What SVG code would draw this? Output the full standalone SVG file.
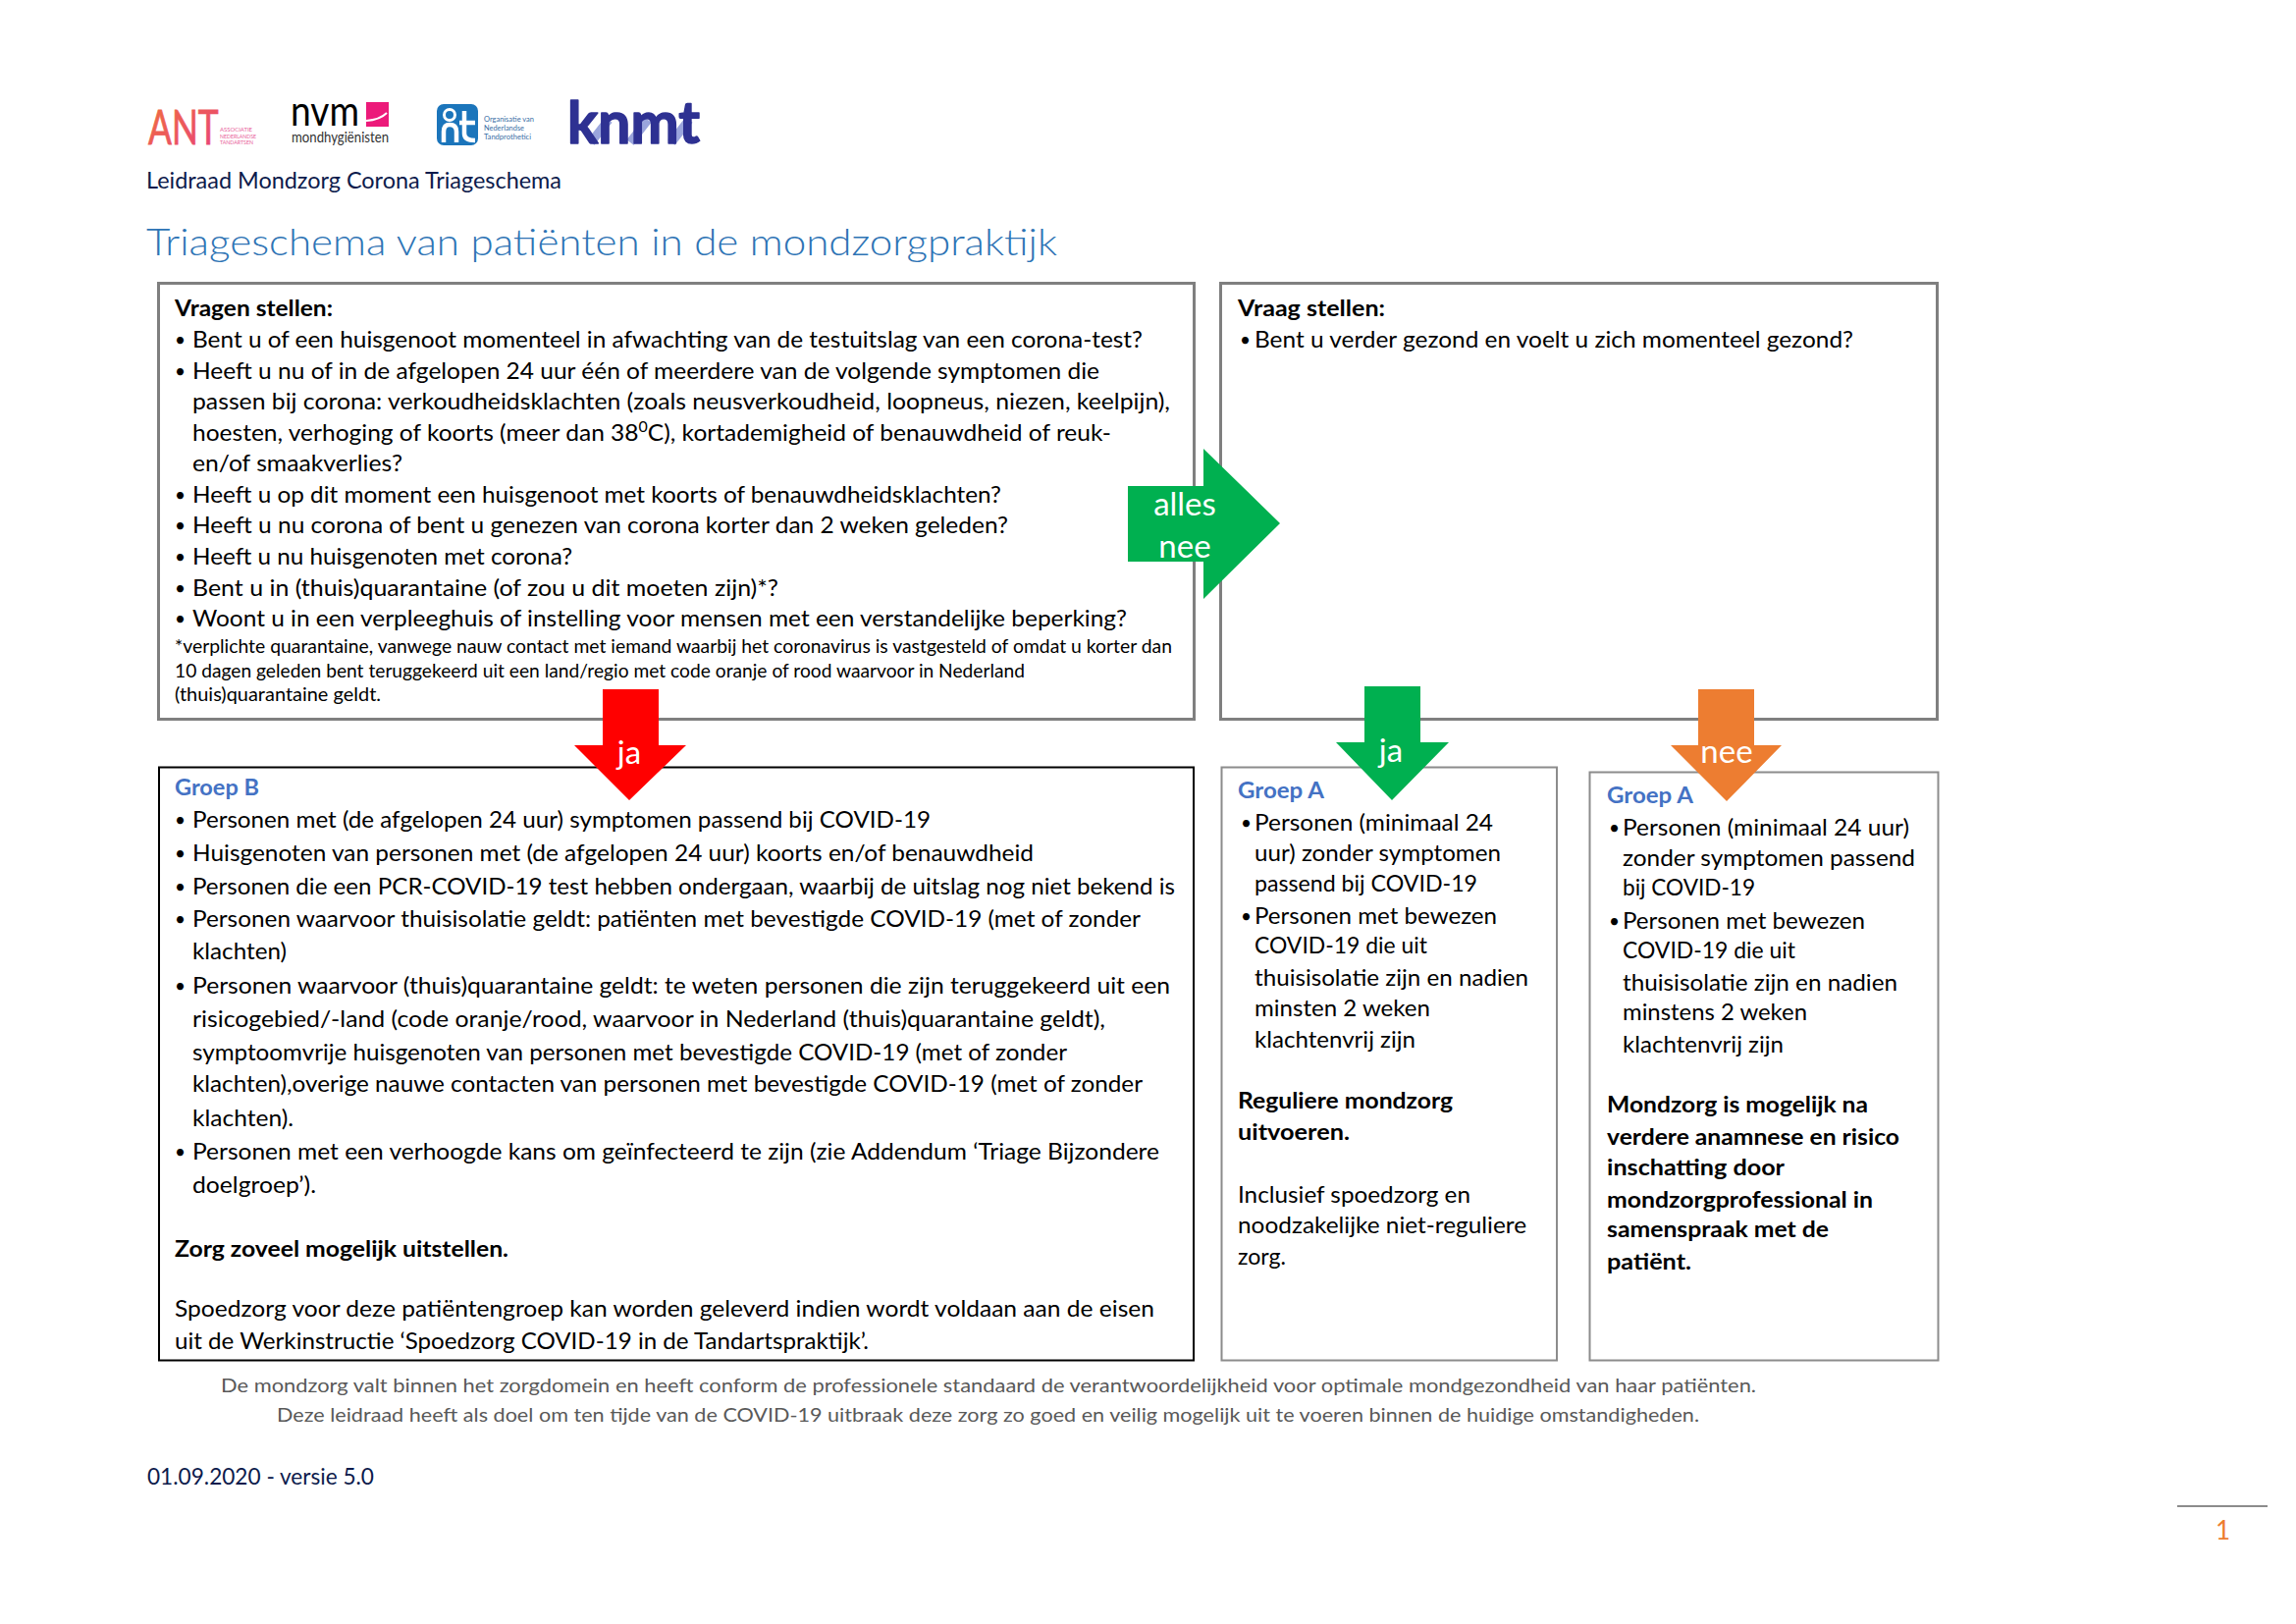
<svg xmlns="http://www.w3.org/2000/svg" width="2339" height="1654" viewBox="0 0 2339 1654">
<style>
text{font-family:"Lato","Carlito","Liberation Sans",sans-serif;fill:#000;white-space:pre}
.b{font-size:23px}
.d{font-size:19px}
.s{font-size:19px}
.h{font-size:23px;font-weight:700}
.g{font-size:23px;font-weight:700;fill:#4472C4}
.box1{fill:#fff;stroke:#7f7f7f;stroke-width:3}
.boxb{fill:#fff;stroke:#000;stroke-width:2}
.boxa{fill:#fff;stroke:#8c8c8c;stroke-width:2}
.lab{font-size:33px;fill:#fff;text-anchor:middle}
.foot{font-size:20px;fill:#595959}
.tiny{font-size:5.2px;fill:#e8609a}
.tinyb{font-size:7px;fill:#3a6ea5}
</style>
<defs>
<linearGradient id="antg" x1="0" y1="0" x2="1" y2="1"><stop offset="0" stop-color="#f0703a"/><stop offset="1" stop-color="#e8407f"/></linearGradient>
</defs>
<rect width="2339" height="1654" fill="#fff"/>

<g id="logo-ant">
<text transform="translate(151,147) scale(.72,1)" font-size="49" style="fill:url(#antg);stroke:url(#antg);stroke-width:.8">ANT</text>
<text class="tiny" x="224" y="134" textLength="33" lengthAdjust="spacingAndGlyphs" style="fill:#e8609a">ASSOCIATIE</text>
<text class="tiny" x="224" y="140.500" textLength="37" lengthAdjust="spacingAndGlyphs" style="fill:#e8609a">NEDERLANDSE</text>
<text class="tiny" x="224" y="147" textLength="34" lengthAdjust="spacingAndGlyphs" style="fill:#e8609a">TANDARTSEN</text>
</g>
<g id="logo-nvm">
<text x="296" y="128" font-size="42" textLength="70" lengthAdjust="spacingAndGlyphs">nvm</text>
<rect x="373" y="104" width="23" height="25" fill="#ec1a7a"/>
<path d="M373 123Q387 122 394 115" fill="none" stroke="#fff" stroke-width="2"/>
<text x="297" y="145" font-size="15" textLength="99" lengthAdjust="spacingAndGlyphs" style="fill:#333">mondhygiënisten</text>
</g>
<g id="logo-rt">
<rect x="445" y="106" width="42" height="42" rx="7" fill="#1b75bb"/>
<path d="M452 145V134Q452 127 458 127Q465 127 465 134V145" fill="none" stroke="#fff" stroke-width="4.500"/>
<circle cx="458" cy="117" r="5.500" fill="none" stroke="#fff" stroke-width="3"/>
<path d="M473 113V136Q473 143 484 143M468 125H484" fill="none" stroke="#fff" stroke-width="4.500"/>
<text class="tinyb" x="493" y="124" textLength="51" lengthAdjust="spacingAndGlyphs" style="fill:#3a6ea5">Organisatie van</text>
<text class="tinyb" x="493" y="133" textLength="41" lengthAdjust="spacingAndGlyphs" style="fill:#3a6ea5">Nederlandse</text>
<text class="tinyb" x="493" y="142" textLength="48" lengthAdjust="spacingAndGlyphs" style="fill:#3a6ea5">Tandprothetici</text>
</g>
<g id="logo-knmt">
<path d="M602 145L620 122M642 145L660 122M684 145L702 122" stroke="#9aa5dc" stroke-width="9" fill="none"/>
<text x="578" y="146" font-size="60" textLength="135" lengthAdjust="spacingAndGlyphs" style="fill:#2e3192;font-weight:700;stroke:#2e3192;stroke-width:1.5;stroke-linejoin:round">knmt</text>
</g>

<g id="header">
<text x="149" y="192" font-size="23" textLength="423" lengthAdjust="spacingAndGlyphs" style="fill:#0d1b4c">Leidraad Mondzorg Corona Triageschema</text>
<text x="149" y="260" font-size="38" textLength="928" lengthAdjust="spacingAndGlyphs" style="fill:#2e74b5;font-weight:300">Triageschema van patiënten in de mondzorgpraktijk</text>
</g>

<g id="node-vragen">
<rect class="box1" x="161.500" y="288.500" width="1055" height="444"/>
<g transform="translate(0,1)">
<text class="h" x="178" y="321" textLength="161" lengthAdjust="spacingAndGlyphs">Vragen stellen:</text>
<text class="d" x="178" y="352">•</text><text class="b" x="196" y="353" textLength="968" lengthAdjust="spacingAndGlyphs">Bent u of een huisgenoot momenteel in afwachting van de testuitslag van een corona-test?</text>
<text class="d" x="178" y="384">•</text><text class="b" x="196" y="385" textLength="924" lengthAdjust="spacingAndGlyphs">Heeft u nu of in de afgelopen 24 uur één of meerdere van de volgende symptomen die</text>
<text class="b" x="196" y="416" textLength="996" lengthAdjust="spacingAndGlyphs">passen bij corona: verkoudheidsklachten (zoals neusverkoudheid, loopneus, niezen, keelpijn),</text>
<text class="b" x="196" y="448" textLength="936" lengthAdjust="spacingAndGlyphs">hoesten, verhoging of koorts (meer dan 38<tspan font-size="15" dy="-9">0</tspan><tspan dy="9">C), kortademigheid of benauwdheid of reuk-</tspan></text>
<text class="b" x="196" y="479" textLength="214" lengthAdjust="spacingAndGlyphs">en/of smaakverlies?</text>
<text class="d" x="178" y="510">•</text><text class="b" x="196" y="511" textLength="824" lengthAdjust="spacingAndGlyphs">Heeft u op dit moment een huisgenoot met koorts of benauwdheidsklachten?</text>
<text class="d" x="178" y="541">•</text><text class="b" x="196" y="542" textLength="831" lengthAdjust="spacingAndGlyphs">Heeft u nu corona of bent u genezen van corona korter dan 2 weken geleden?</text>
<text class="d" x="178" y="573">•</text><text class="b" x="196" y="574" textLength="387" lengthAdjust="spacingAndGlyphs">Heeft u nu huisgenoten met corona?</text>
<text class="d" x="178" y="605">•</text><text class="b" x="196" y="606" textLength="597" lengthAdjust="spacingAndGlyphs">Bent u in (thuis)quarantaine (of zou u dit moeten zijn)*?</text>
<text class="d" x="178" y="636">•</text><text class="b" x="196" y="637" textLength="952" lengthAdjust="spacingAndGlyphs">Woont u in een verpleeghuis of instelling voor mensen met een verstandelijke beperking?</text>
<text class="s" x="178" y="664" textLength="1016" lengthAdjust="spacingAndGlyphs">*verplichte quarantaine, vanwege nauw contact met iemand waarbij het coronavirus is vastgesteld of omdat u korter dan</text>
<text class="s" x="178" y="689" textLength="866" lengthAdjust="spacingAndGlyphs">10 dagen geleden bent teruggekeerd uit een land/regio met code oranje of rood waarvoor in Nederland</text>
<text class="s" x="178" y="713" textLength="210" lengthAdjust="spacingAndGlyphs">(thuis)quarantaine geldt.</text>
</g>
</g>

<g id="node-vraag">
<rect class="box1" x="1243.500" y="288.500" width="730" height="444"/>
<g transform="translate(0,1)">
<text class="h" x="1261" y="321" textLength="150" lengthAdjust="spacingAndGlyphs">Vraag stellen:</text>
<text class="d" x="1263" y="352">•</text><text class="b" x="1278" y="353" textLength="610" lengthAdjust="spacingAndGlyphs">Bent u verder gezond en voelt u zich momenteel gezond?</text>
</g>
</g>

<g id="node-groep-b" transform="translate(0,1)">
<rect class="boxb" x="162" y="780.500" width="1054" height="604"/>
<text class="g" x="178" y="809" textLength="86" lengthAdjust="spacingAndGlyphs">Groep B</text>
<text class="d" x="178" y="841">•</text><text class="b" x="196" y="842" textLength="752" lengthAdjust="spacingAndGlyphs">Personen met (de afgelopen 24 uur) symptomen passend bij COVID-19</text>
<text class="d" x="178" y="875">•</text><text class="b" x="196" y="876" textLength="857" lengthAdjust="spacingAndGlyphs">Huisgenoten van personen met (de afgelopen 24 uur) koorts en/of benauwdheid</text>
<text class="d" x="178" y="909">•</text><text class="b" x="196" y="910" textLength="1001" lengthAdjust="spacingAndGlyphs">Personen die een PCR-COVID-19 test hebben ondergaan, waarbij de uitslag nog niet bekend is</text>
<text class="d" x="178" y="942">•</text><text class="b" x="196" y="943" textLength="966" lengthAdjust="spacingAndGlyphs">Personen waarvoor thuisisolatie geldt: patiënten met bevestigde COVID-19 (met of zonder</text>
<text class="b" x="196" y="976" textLength="96" lengthAdjust="spacingAndGlyphs">klachten)</text>
<text class="d" x="178" y="1010">•</text><text class="b" x="196" y="1011" textLength="996" lengthAdjust="spacingAndGlyphs">Personen waarvoor (thuis)quarantaine geldt: te weten personen die zijn teruggekeerd uit een</text>
<text class="b" x="196" y="1045" textLength="930" lengthAdjust="spacingAndGlyphs">risicogebied/-land (code oranje/rood, waarvoor in Nederland (thuis)quarantaine geldt),</text>
<text class="b" x="196" y="1079" textLength="891" lengthAdjust="spacingAndGlyphs">symptoomvrije huisgenoten van personen met bevestigde COVID-19 (met of zonder</text>
<text class="b" x="196" y="1111" textLength="968" lengthAdjust="spacingAndGlyphs">klachten),overige nauwe contacten van personen met bevestigde COVID-19 (met of zonder</text>
<text class="b" x="196" y="1146" textLength="103" lengthAdjust="spacingAndGlyphs">klachten).</text>
<text class="d" x="178" y="1179">•</text><text class="b" x="196" y="1180" textLength="985" lengthAdjust="spacingAndGlyphs">Personen met een verhoogde kans om geïnfecteerd te zijn (zie Addendum ‘Triage Bijzondere</text>
<text class="b" x="196" y="1214" textLength="126" lengthAdjust="spacingAndGlyphs">doelgroep’).</text>
<text class="h" x="178" y="1279" textLength="340" lengthAdjust="spacingAndGlyphs">Zorg zoveel mogelijk uitstellen.</text>
<text class="b" x="178" y="1340" textLength="998" lengthAdjust="spacingAndGlyphs">Spoedzorg voor deze patiëntengroep kan worden geleverd indien wordt voldaan aan de eisen</text>
<text class="b" x="178" y="1373" textLength="707" lengthAdjust="spacingAndGlyphs">uit de Werkinstructie ‘Spoedzorg COVID-19 in de Tandartspraktijk’.</text>
</g>

<g id="node-groep-a-ja" transform="translate(0,1)">
<rect class="boxa" x="1244.500" y="780.500" width="341.500" height="604"/>
<g transform="translate(-1,0)">
<text class="g" x="1262" y="812" textLength="88" lengthAdjust="spacingAndGlyphs">Groep A</text>
<text class="d" x="1265" y="844">•</text><text class="b" x="1279" y="845" textLength="243" lengthAdjust="spacingAndGlyphs">Personen (minimaal 24</text>
<text class="b" x="1279" y="876" textLength="251" lengthAdjust="spacingAndGlyphs">uur) zonder symptomen</text>
<text class="b" x="1279" y="907" textLength="227" lengthAdjust="spacingAndGlyphs">passend bij COVID-19</text>
<text class="d" x="1265" y="939">•</text><text class="b" x="1279" y="940" textLength="247" lengthAdjust="spacingAndGlyphs">Personen met bewezen</text>
<text class="b" x="1279" y="970" textLength="176" lengthAdjust="spacingAndGlyphs">COVID-19 die uit</text>
<text class="b" x="1279" y="1003" textLength="279" lengthAdjust="spacingAndGlyphs">thuisisolatie zijn en nadien</text>
<text class="b" x="1279" y="1034" textLength="179" lengthAdjust="spacingAndGlyphs">minsten 2 weken</text>
<text class="b" x="1279" y="1066" textLength="164" lengthAdjust="spacingAndGlyphs">klachtenvrij zijn</text>
<text class="h" x="1262" y="1128" textLength="219" lengthAdjust="spacingAndGlyphs">Reguliere mondzorg</text>
<text class="h" x="1262" y="1160" textLength="114" lengthAdjust="spacingAndGlyphs">uitvoeren.</text>
<text class="b" x="1262" y="1224" textLength="237" lengthAdjust="spacingAndGlyphs">Inclusief spoedzorg en</text>
<text class="b" x="1262" y="1255" textLength="294" lengthAdjust="spacingAndGlyphs">noodzakelijke niet-reguliere</text>
<text class="b" x="1262" y="1287" textLength="49" lengthAdjust="spacingAndGlyphs">zorg.</text>
</g>
</g>

<g id="node-groep-a-nee" transform="translate(0,1)">
<rect class="boxa" x="1619.500" y="785.500" width="355" height="599"/>
<g transform="translate(-1,0)">
<text class="g" x="1638" y="817" textLength="88" lengthAdjust="spacingAndGlyphs">Groep A</text>
<text class="d" x="1640" y="849">•</text><text class="b" x="1654" y="850" textLength="292" lengthAdjust="spacingAndGlyphs">Personen (minimaal 24 uur)</text>
<text class="b" x="1654" y="881" textLength="298" lengthAdjust="spacingAndGlyphs">zonder symptomen passend</text>
<text class="b" x="1654" y="911" textLength="135" lengthAdjust="spacingAndGlyphs">bij COVID-19</text>
<text class="d" x="1640" y="944">•</text><text class="b" x="1654" y="945" textLength="247" lengthAdjust="spacingAndGlyphs">Personen met bewezen</text>
<text class="b" x="1654" y="975" textLength="176" lengthAdjust="spacingAndGlyphs">COVID-19 die uit</text>
<text class="b" x="1654" y="1008" textLength="280" lengthAdjust="spacingAndGlyphs">thuisisolatie zijn en nadien</text>
<text class="b" x="1654" y="1038" textLength="188" lengthAdjust="spacingAndGlyphs">minstens 2 weken</text>
<text class="b" x="1654" y="1071" textLength="164" lengthAdjust="spacingAndGlyphs">klachtenvrij zijn</text>
<text class="h" x="1638" y="1132" textLength="266" lengthAdjust="spacingAndGlyphs">Mondzorg is mogelijk na</text>
<text class="h" x="1638" y="1165" textLength="298" lengthAdjust="spacingAndGlyphs">verdere anamnese en risico</text>
<text class="h" x="1638" y="1196" textLength="181" lengthAdjust="spacingAndGlyphs">inschatting door</text>
<text class="h" x="1638" y="1229" textLength="271" lengthAdjust="spacingAndGlyphs">mondzorgprofessional in</text>
<text class="h" x="1638" y="1259" textLength="226" lengthAdjust="spacingAndGlyphs">samenspraak met de</text>
<text class="h" x="1638" y="1292" textLength="86" lengthAdjust="spacingAndGlyphs">patiënt.</text>
</g>
</g>

<g id="connectors">
<g id="arrow-alles-nee">
<polygon fill="#00b050" points="1149,495 1226,495 1226,457 1304,533 1226,610 1226,572 1149,572"/>
<text class="lab" x="1207" y="525">alles</text><text class="lab" x="1207" y="568">nee</text>
</g>
<g id="arrow-ja-red">
<polygon fill="#ff0000" points="614,702 671,702 671,759 699,759 641,815 585,759 614,759"/>
<text class="lab" x="641" y="778">ja</text>
</g>
<g id="arrow-ja-green">
<polygon fill="#00b050" points="1390,699 1447,699 1447,756 1476,756 1418,815 1361,756 1390,756"/>
<text class="lab" x="1417" y="776">ja</text>
</g>
<g id="arrow-nee-orange">
<polygon fill="#ed7d31" points="1730,702 1787,702 1787,759 1815,759 1759,816 1702,759 1730,759"/>
<text class="lab" x="1759" y="777">nee</text>
</g>
</g>

<g id="footer">
<text class="foot" x="225" y="1418" textLength="1564" lengthAdjust="spacingAndGlyphs">De mondzorg valt binnen het zorgdomein en heeft conform de professionele standaard de verantwoordelijkheid voor optimale mondgezondheid van haar patiënten.</text>
<text class="foot" x="282" y="1448" textLength="1449" lengthAdjust="spacingAndGlyphs">Deze leidraad heeft als doel om ten tijde van de COVID-19 uitbraak deze zorg zo goed en veilig mogelijk uit te voeren binnen de huidige omstandigheden.</text>
<text x="150" y="1512" font-size="23" textLength="231" lengthAdjust="spacingAndGlyphs" style="fill:#0d1b4c">01.09.2020 - versie 5.0</text>
<line x1="2218" y1="1534" x2="2310" y2="1534" stroke="#8c8c8c" stroke-width="2"/>
<text x="2257" y="1568" font-size="26" style="fill:#ed7d31">1</text>
</g>
</svg>
